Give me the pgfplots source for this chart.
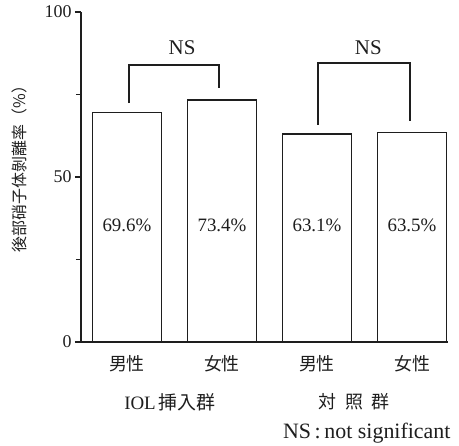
\documentclass[border=0pt]{standalone}
\usepackage{fontspec}
\setmainfont{Liberation Serif}
\newfontfamily\cjk{Noto Sans CJK JP}
\usepackage{pgfplots}
\pgfplotsset{compat=1.18}
\definecolor{ink}{RGB}{30,30,30}
\begin{document}
\begin{tikzpicture}
\useasboundingbox (-81bp,-104bp) rectangle (378bp,342bp);
\begin{axis}[
 at={(0,0)}, anchor=south west,
 scale only axis, width=367bp, height=330bp,
 xmin=-0.484, xmax=3.379, ymin=0, ymax=100,
 axis x line=bottom, axis y line=left,
 axis line style={-, line width=1.4bp, ink},
 ybar, bar width=69bp,
 ytick={0,50,100}, minor ytick={25,75},
 tick align=outside, major tick length=6bp, minor tick length=5bp,
 ytick style={line width=1.2bp, ink},
 minor tick style={line width=1.2bp, ink},
 xtick={0,1,2,3}, xticklabels={男性,女性,男性,女性},
 xtick style={draw=none},
 xticklabel style={font=\cjk\fontsize{18}{20}\selectfont, yshift=-4bp, text=ink},
 yticklabel style={font=\fontsize{18}{20}\selectfont, text=ink},
 /pgf/number format/assume math mode=true,
 clip=false,
]
\addplot[draw=ink, fill=white, line width=1.6bp] coordinates {(0,69.6) (1,73.4) (2,63.1) (3,63.5)};
\draw[ink, line width=1.6bp] (axis cs:0.02,72.4) |- (axis cs:0.968,83.9) -- (axis cs:0.968,77.0);
\draw[ink, line width=1.6bp] (axis cs:2.01,65.8) |- (axis cs:2.98,84.5) -- (axis cs:2.98,67.0);
\node[font=\fontsize{21}{24}\selectfont, text=ink] at (axis cs:0.58,89.1) {NS};
\node[font=\fontsize{21}{24}\selectfont, text=ink] at (axis cs:2.54,89.1) {NS};
\node[font=\fontsize{19}{22}\selectfont, text=ink] at (axis cs:0,35.2) {69.6\%};
\node[font=\fontsize{19}{22}\selectfont, text=ink] at (axis cs:1,35.2) {73.4\%};
\node[font=\fontsize{19}{22}\selectfont, text=ink] at (axis cs:2,35.2) {63.1\%};
\node[font=\fontsize{19}{22}\selectfont, text=ink] at (axis cs:3,35.2) {63.5\%};
\end{axis}
\node[rotate=90, font=\cjk\fontsize{16}{18}\selectfont, text=ink] at (-62bp,177bp) {後部硝子体剝離率（\%）};
\node[font=\fontsize{19}{22}\selectfont, text=ink] at (89bp,-60bp) {IOL\,{\cjk 挿入群}};
\node[font=\cjk\fontsize{18}{20}\selectfont, text=ink] at (273bp,-60bp) {対\hspace{9bp}照\hspace{9bp}群};
\node[anchor=east, font=\fontsize{22}{25}\selectfont, text=ink] at (373bp,-91bp) {NS\,:\,not significant};
\end{tikzpicture}
\end{document}
